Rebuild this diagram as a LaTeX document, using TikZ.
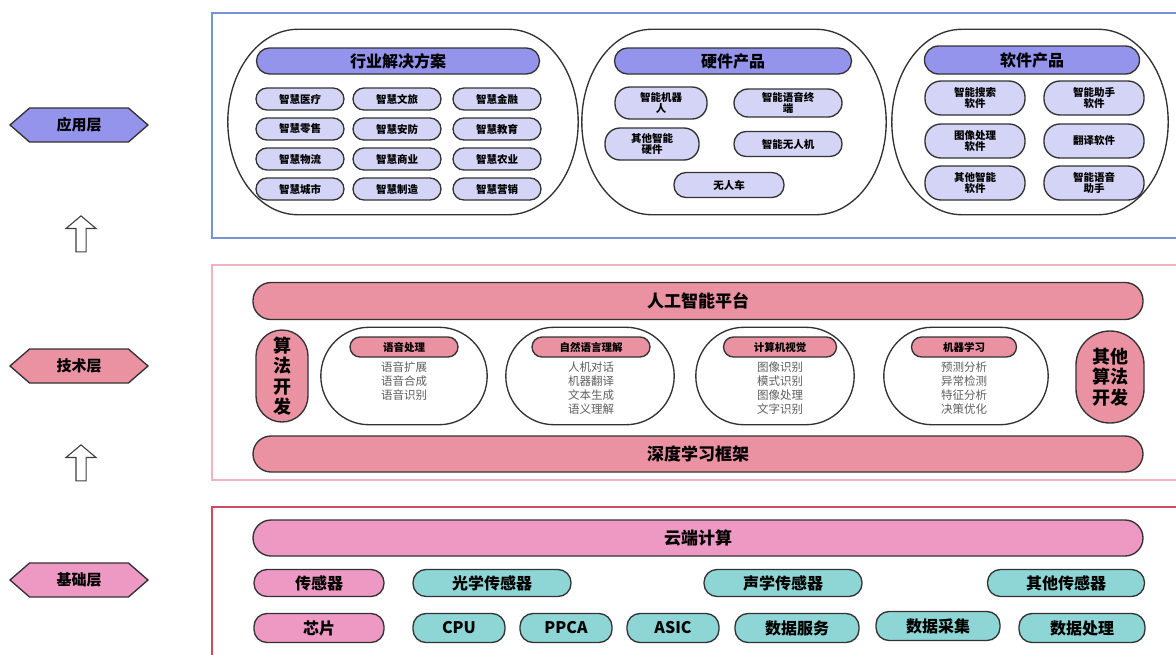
\documentclass[tikz,border=0pt]{standalone}
\usepackage{fontspec}
\setmainfont{Noto Sans CJK SC}
\usetikzlibrary{shapes.symbols, shapes.arrows}

\definecolor{appdark}{RGB}{148,148,236}
\definecolor{applight}{RGB}{212,212,246}
\definecolor{appframe}{RGB}{118,146,218}
\definecolor{techpink}{RGB}{234,146,162}
\definecolor{techframe}{RGB}{242,178,190}
\definecolor{basepink}{RGB}{238,152,196}
\definecolor{basecyan}{RGB}{142,214,214}
\definecolor{baseframe}{RGB}{214,70,98}
\definecolor{bodygray}{RGB}{95,95,95}

% outline of a group: flat top and bottom, elliptic ends
\newcommand{\groupoutline}[3]{%
    \draw[outline, fill=white] ([xshift=#2]#1.north west) -- ([xshift=-#2]#1.north east)
        .. controls ([xshift=-0.45*#2]#1.north east) and ([yshift=-0.45*#3]#1.north east) .. (#1.east)
        .. controls ([yshift=0.45*#3]#1.south east) and ([xshift=-0.45*#2]#1.south east) .. ([xshift=-#2]#1.south east)
        -- ([xshift=#2]#1.south west)
        .. controls ([xshift=0.45*#2]#1.south west) and ([yshift=0.45*#3]#1.south west) .. (#1.west)
        .. controls ([yshift=-0.45*#3]#1.north west) and ([xshift=0.45*#2]#1.north west) .. cycle;}

\begin{document}
\begin{tikzpicture}[x=1pt, y=-1pt,
    outline/.style={draw=black!80, line width=1.35pt},
    layer label/.style={outline, shape=signal, signal to=west and east, signal pointer angle=82,
        minimum width=138pt, minimum height=34pt, inner sep=0pt,
        font=\bfseries\fontsize{15}{15}\selectfont},
    rise arrow/.style={single arrow, shape border rotate=90, draw=black!75, fill=white, line width=1.1pt,
        minimum height=36pt, inner sep=4.5pt, single arrow head extend=10pt, single arrow head indent=0pt,
        single arrow tip angle=100},
    group box/.style={inner sep=0pt},
    header/.style={outline, inner sep=0pt, font=\bfseries\fontsize{16}{16}\selectfont},
    apppill/.style={outline, fill=applight, inner sep=0pt, align=center, rounded corners=11pt,
        font=\bfseries\fontsize{10.5}{11.5}\selectfont},
    bar/.style={outline, rounded corners=18pt, minimum width=890pt, inner sep=0pt,
        font=\bfseries\fontsize{17}{17}\selectfont},
    sidepill/.style={outline, fill=techpink, minimum height=92pt, inner sep=0pt, align=center,
        font=\bfseries\fontsize{18}{20.5}\selectfont},
    theader/.style={outline, fill=techpink, rounded corners=10pt, minimum height=20pt,
        inner sep=0pt, font=\bfseries\fontsize{10.5}{10.5}\selectfont},
    tbody/.style={text=bodygray, align=center, inner sep=0pt, font=\fontsize{11.5}{13.8}\selectfont},
    basepill/.style={outline, rounded corners=13pt, inner sep=0pt, font=\bfseries\fontsize{16}{16}\selectfont}]

    \useasboundingbox (0,0) rectangle (1176,654);
    \clip (0,0) rectangle (1176,654);

    \draw[draw=appframe, line width=1.5pt] (212,13) rectangle (1195,238);
    \draw[draw=techframe, line width=1.3pt] (212,265) rectangle (1195,480);
    \draw[draw=baseframe, line width=1.3pt] (212,507) rectangle (1195,665);

    \node[layer label, fill=appdark] (applayer) at (79,125) {应用层};
    \node[layer label, fill=techpink] (techlayer) at (79,366) {技术层};
    \node[layer label, fill=basepink] (baselayer) at (79,580) {基础层};
    \node[rise arrow] (rise1) at (81,236) {};
    \node[rise arrow] (rise2) at (81,465) {};

    \node[group box, minimum width=350pt, minimum height=185pt] (industry) at (403,122) {};
    \node[group box, minimum width=304pt, minimum height=185pt] (hardware) at (734,122) {};
    \node[group box, minimum width=276pt, minimum height=185pt] (software) at (1030,122) {};
    \groupoutline{industry}{70pt}{92pt}
    \groupoutline{hardware}{70pt}{92pt}
    \groupoutline{software}{70pt}{92pt}

    \node[header, fill=appdark, rounded corners=13pt, minimum width=283pt, minimum height=26pt] (industryhead) at (398,61) {行业解决方案};
    \node[header, fill=appdark, rounded corners=13pt, minimum width=237pt, minimum height=26pt] (hardwarehead) at (733,61) {硬件产品};
    \node[header, fill=appdark, rounded corners=14pt, minimum width=215pt, minimum height=28pt] (softwarehead) at (1032,60) {软件产品};

    \foreach \name/\x/\y/\txt in {
        yl/300/99/智慧医疗, wl/397/99/智慧文旅, jr/497/99/智慧金融,
        ls/300/129/智慧零售, af/397/129/智慧安防, jy/497/129/智慧教育,
        wu/300/159/智慧物流, sy/397/159/智慧商业, ny/497/159/智慧农业,
        cs/300/189/智慧城市, zz/397/189/智慧制造, yx/497/189/智慧营销}
        \node[apppill, minimum width=88pt, minimum height=22pt] (\name) at (\x,\y) {\txt};

    \node[apppill, rounded corners=15pt, minimum width=92pt, minimum height=32pt] (robot) at (661,103) {智能机器\\人};
    \node[apppill, rounded corners=14pt, minimum width=108pt, minimum height=28pt] (voiceterm) at (788,103) {智能语音终\\端};
    \node[apppill, rounded corners=15pt, minimum width=94pt, minimum height=32pt] (otherhw) at (652,144) {其他智能\\硬件};
    \node[apppill, rounded corners=12pt, minimum width=108pt, minimum height=25pt] (drone) at (788,144) {智能无人机};
    \node[apppill, rounded corners=12pt, minimum width=110pt, minimum height=25pt] (car) at (729,185) {无人车};

    \foreach \name/\x/\y/\txt in {
        search/975/98/{智能搜索\\软件}, helper/1094/98/{智能助手\\软件},
        image/975/141/{图像处理\\软件}, transl/1094/141/{翻译软件},
        othersw/975/183/{其他智能\\软件}, voicehelp/1094/183/{智能语音\\助手}}
        \node[apppill, rounded corners=16pt, minimum width=100pt, minimum height=34pt] (\name) at (\x,\y) {\txt};

    \node[bar, fill=techpink, minimum height=37pt] (platform) at (698,301) {人工智能平台};
    \node[bar, fill=techpink, minimum height=36pt] (framework) at (698,454) {深度学习框架};
    \node[sidepill, rounded corners=26pt, minimum width=52pt] (algo) at (282,376) {算\\法\\开\\发};
    \node[sidepill, rounded corners=34pt, minimum width=68pt] (otheralgo) at (1110,377) {其他\\算法\\开发};

    \node[group box, minimum width=166pt, minimum height=97pt] (speech) at (404,376) {};
    \node[group box, minimum width=168pt, minimum height=97pt] (nlp) at (590,376) {};
    \node[group box, minimum width=158pt, minimum height=97pt] (vision) at (775,376) {};
    \node[group box, minimum width=164pt, minimum height=97pt] (ml) at (966,376) {};
    \groupoutline{speech}{48pt}{48.5pt}
    \groupoutline{nlp}{48pt}{48.5pt}
    \groupoutline{vision}{48pt}{48.5pt}
    \groupoutline{ml}{48pt}{48.5pt}

    \node[theader, minimum width=108pt] (speechhead) at (404,347) {语音处理};
    \node[theader, minimum width=118pt] (nlphead) at (591,347) {自然语言理解};
    \node[theader, minimum width=113pt] (visionhead) at (780,347) {计算机视觉};
    \node[theader, minimum width=105pt] (mlhead) at (964,347) {机器学习};

    \node[tbody, anchor=north] (speechbody) at (404,362) {语音扩展\\语音合成\\语音识别};
    \node[tbody, anchor=north] (nlpbody) at (591,362) {人机对话\\机器翻译\\文本生成\\语义理解};
    \node[tbody, anchor=north] (visionbody) at (780,362) {图像识别\\模式识别\\图像处理\\文字识别};
    \node[tbody, anchor=north] (mlbody) at (964,362) {预测分析\\异常检测\\特征分析\\决策优化};

    \node[bar, fill=basepink, minimum height=36pt] (cloud) at (698,538) {云端计算};

    \node[basepill, fill=basepink, minimum width=130pt, minimum height=27pt] (sensor) at (319,583) {传感器};
    \node[basepill, fill=basecyan, minimum width=158pt, minimum height=27pt] (optical) at (492,583) {光学传感器};
    \node[basepill, fill=basecyan, minimum width=158pt, minimum height=27pt] (acoustic) at (783,583) {声学传感器};
    \node[basepill, fill=basecyan, minimum width=157pt, minimum height=27pt] (othersensor) at (1066,583) {其他传感器};

    \node[basepill, fill=basepink, minimum width=130pt, minimum height=29pt] (chip) at (319,628) {芯片};
    \node[basepill, fill=basecyan, minimum width=92pt, minimum height=29pt] (cpu) at (459,628) {CPU};
    \node[basepill, fill=basecyan, minimum width=92pt, minimum height=29pt] (ppca) at (566,628) {PPCA};
    \node[basepill, fill=basecyan, minimum width=92pt, minimum height=29pt] (asic) at (673,628) {ASIC};
    \node[basepill, fill=basecyan, minimum width=124pt, minimum height=29pt] (dataservice) at (797,628) {数据服务};
    \node[basepill, fill=basecyan, minimum width=124pt, minimum height=29pt] (datacollect) at (938,626) {数据采集};
    \node[basepill, fill=basecyan, minimum width=126pt, minimum height=29pt] (dataproc) at (1082,628) {数据处理};
\end{tikzpicture}
\end{document}
